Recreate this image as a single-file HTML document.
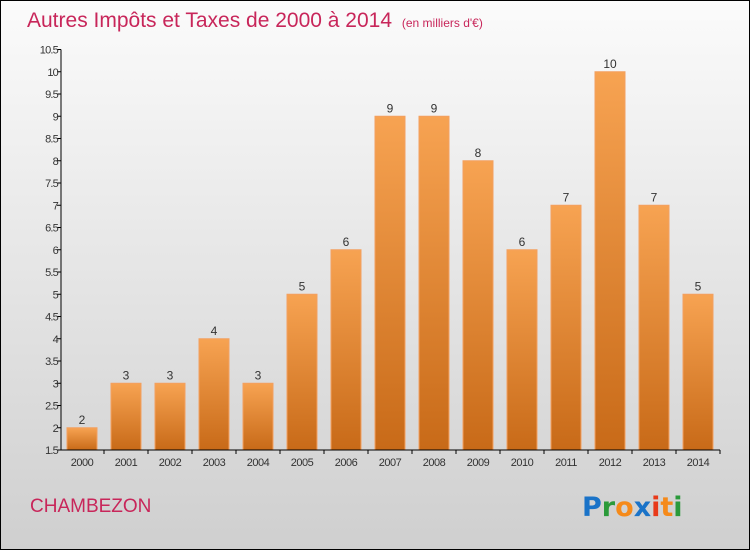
<!DOCTYPE html>
<html><head><meta charset="utf-8"><style>
body{margin:0;width:750px;height:550px;overflow:hidden;font-family:"Liberation Sans",sans-serif}
</style></head><body>
<svg width="750" height="550" xmlns="http://www.w3.org/2000/svg">
<defs>
<linearGradient id="bg" x1="0" y1="0" x2="0" y2="1"><stop offset="0" stop-color="#fbfbfb"/><stop offset="1" stop-color="#cfcfcf"/></linearGradient>
<linearGradient id="bar" x1="0" y1="0" x2="0" y2="1"><stop offset="0" stop-color="#f7a352"/><stop offset="1" stop-color="#c86a18"/></linearGradient>
</defs>
<rect x="0.5" y="0.5" width="749" height="549" fill="url(#bg)" stroke="#000"/>
<text x="27" y="27" font-size="21" fill="#c8265a">Autres Impôts et Taxes de 2000 à 2014 <tspan font-size="12" dx="4">(en milliers d'€)</tspan></text>
<g id="plot"></g>
<text x="30" y="512" font-size="19" fill="#c8265a">CHAMBEZON</text>
<g font-size="27" font-family="'DejaVu Sans',sans-serif" font-weight="bold">
<text x="582" y="516"><tspan fill="#1a73c8">P</tspan><tspan fill="#2a9a3a">r</tspan><tspan fill="#f58a1a">o</tspan><tspan fill="#1a73c8">x</tspan><tspan fill="#e83a1a">i</tspan><tspan fill="#f58a1a">t</tspan><tspan fill="#2a9a3a">i</tspan></text>
</g>
</svg>
<script>
const years=["2000","2001","2002","2003","2004","2005","2006","2007","2008","2009","2010","2011","2012","2013","2014"];
const values=[2,3,3,4,3,5,6,9,9,8,6,7,10,7,5];
const yTicks=[1.5,2,2.5,3,3.5,4,4.5,5,5.5,6,6.5,7,7.5,8,8.5,9,9.5,10,10.5];
const NS="http://www.w3.org/2000/svg";
const g=document.getElementById('plot');
const y=v=>450-(v-1.5)*44.5;
const x=i=>82+i*44;
function el(t,a){const e=document.createElementNS(NS,t);for(const k in a)e.setAttribute(k,a[k]);g.appendChild(e);return e;}
yTicks.forEach(v=>{
 const t=el('line',{x1:57,x2:61,y1:y(v),y2:y(v),stroke:'#000'});
 
 
 const l=el('text',{x:58,y:y(v)+4,'font-size':11,'text-anchor':'end',fill:'#333','letter-spacing':'-0.8'});
 
 
 l.textContent=String(v);
});
values.forEach((v,i)=>{
 const r=el('rect',{x:x(i)-15,y:y(v),width:30,height:450-y(v),fill:'url(#bar)',stroke:'#f3a060','stroke-width':1});
 
 
 const vl=el('text',{x:x(i),y:y(v)-4,'font-size':12,'text-anchor':'middle',fill:'#333'});
 
 
 vl.textContent=String(v);
 const xl=el('text',{x:x(i),y:466,'font-size':11,'text-anchor':'middle',fill:'#333','letter-spacing':'-0.5'});
 
 
 xl.textContent=years[i];
 const xt=el('line',{x1:x(i)+22,x2:x(i)+22,y1:450,y2:454,stroke:'#000'});
 
 
});
const ya=el('line',{x1:61,x2:61,y1:y(10.5),y2:450,stroke:'#000'});


const xa=el('line',{x1:61,x2:720,y1:450,y2:450,stroke:'#000'});


</script>
</body></html>
